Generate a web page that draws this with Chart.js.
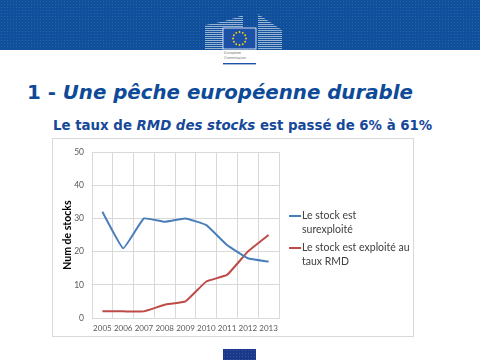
<!DOCTYPE html>
<html>
<head>
<meta charset="utf-8">
<script src="https://cdn.jsdelivr.net/npm/chart.js@4"></script>
<style>
  html, body { margin: 0; padding: 0; background: #fff; }
  body { width: 480px; height: 360px; position: relative; overflow: hidden; font-family: "DejaVu Sans", sans-serif; }
  #header {
    position: absolute; left: 0; top: 0; width: 480px; height: 50px;
    background-color: #0f4f9b;
    background-image: radial-gradient(rgba(255,255,255,0.10) 0.8px, transparent 1px);
    background-size: 3px 3px;
  }
  #logo { position: absolute; left: 200px; top: 10px; }
  #title {
    position: absolute; left: 27px; top: 81px; margin: 0;
    font: bold 19.8px "DejaVu Sans", sans-serif; color: #0d4a98; white-space: nowrap;
  }
  #title i { font-style: italic; }
  #subtitle {
    position: absolute; left: 53px; top: 118px; margin: 0;
    font: bold 13.35px "DejaVu Sans", sans-serif; color: #16489a; white-space: nowrap;
  }
  #subtitle i { font-weight: bold; font-style: italic; }
  #box {
    position: absolute; left: 52px; top: 138px; width: 360px; height: 197px;
    border: 1px solid #d9d9d9;
  }
  #box canvas { position: absolute; left: 0; top: 0; }
  #foot {
    position: absolute; left: 223px; top: 349px; width: 33px; height: 11px;
    background-color: #1b3a8c;
    background-image: radial-gradient(rgba(255,255,255,0.12) 0.8px, transparent 1px);
    background-size: 3px 3px;
  }
</style>
</head>
<body>
<div id="header"></div>
<svg id="logo" width="90" height="60" viewBox="0 0 90 60">
  <defs>
    <pattern id="stripes" width="4" height="2" patternUnits="userSpaceOnUse">
      <rect x="0" y="0" width="4" height="0.8" fill="#ffffff" opacity="0.7"></rect>
    </pattern>
  </defs>
  <path d="M5 15 Q25 12 43 5 L43 39 L5 39 Z" fill="url(#stripes)"></path>
  <path d="M58 4 Q70 12 82 20 L82 39 L58 39 Z" fill="url(#stripes)"></path>
  <rect x="23" y="18" width="33" height="21" fill="#1d51a8" stroke="#ffffff" stroke-width="0.8"></rect>
  <g id="stars" fill="#ffdd00"></g>
  <text x="24" y="44" font-size="3.6" fill="#777" font-family="DejaVu Sans">European</text>
  <text x="24" y="49" font-size="3.6" fill="#777" font-family="DejaVu Sans">Commission</text>
  <rect x="23" y="53" width="33" height="1.4" fill="#1d51a8"></rect>
</svg>
<p id="title">1 - <i>Une pêche européenne durable</i></p>
<p id="subtitle">Le taux de <i>RMD des stocks</i> est passé de 6% à 61%</p>
<div id="box"><canvas id="chart" width="360" height="197"></canvas></div>
<div id="foot"></div>

<script>
// years on the x axis
const years = ['2005', '2006', '2007', '2008', '2009', '2010', '2011', '2012', '2013'];

// number of stocks per year
const surexploite = [32, 21, 30, 29, 30, 28, 22, 18, 17];
const tauxRMD = [2, 2, 2, 4, 5, 11, 13, 20, 25];

const yTicks = [0, 10, 20, 30, 40, 50];

// eu stars on the flag (decoration)
const starGroup = document.getElementById('stars');
for (let i = 0; i < 12; i++) {
  const a = (i / 12) * Math.PI * 2;
  const c = document.createElementNS('http://www.w3.org/2000/svg', 'circle');
  c.setAttribute('cx', 39.5 + Math.cos(a) * 6.5);
  c.setAttribute('cy', 28.5 + Math.sin(a) * 6.5);
  c.setAttribute('r', 0.9);
  starGroup.appendChild(c);
}

Chart.defaults.font.family = 'Lato, "Liberation Sans", sans-serif';
Chart.defaults.color = '#595959';

// legend drawn at the right, labels can have line breaks
const sideLegend = {
  id: 'sideLegend',
  afterDraw(chart) {
    const ctx = chart.ctx;
    const x = 236;
    let y = 77;
    ctx.save();
    ctx.font = '10.5px Lato, "Liberation Sans", sans-serif';
    ctx.textBaseline = 'middle';
    chart.data.datasets.forEach(ds => {
      ctx.strokeStyle = ds.borderColor;
      ctx.lineWidth = 2;
      ctx.beginPath();
      ctx.moveTo(x, y);
      ctx.lineTo(x + 12, y);
      ctx.stroke();
      ctx.fillStyle = '#404040';
      ds.label.split('\n').forEach((line, i) => {
        ctx.fillText(line, x + 13, y + i * 14);
      });
      y += 32;
    });
    ctx.restore();
  },
};

const config = {
  type: 'line',
  data: {
    labels: years,
    datasets: [
      {
        label: 'Le stock est\nsurexploité',
        data: surexploite,
        borderColor: '#4a7ebb',
        backgroundColor: '#4a7ebb',
        borderWidth: 2,
        pointRadius: 0,
        tension: 0.1,
      },
      {
        label: 'Le stock est exploité au\ntaux RMD',
        data: tauxRMD,
        borderColor: '#be4b48',
        backgroundColor: '#be4b48',
        borderWidth: 2,
        pointRadius: 0,
        tension: 0.1,
      },
    ],
  },
  options: {
    responsive: false,
    animation: false,
    layout: { padding: { left: 4, right: 134, top: 8, bottom: 0 } },
    plugins: {
      legend: { display: false },
      tooltip: { enabled: false },
    },
    scales: {
      x: {
        offset: true,
        grid: { offset: true, color: '#d9d9d9', drawTicks: false },
        border: { color: '#d9d9d9' },
        ticks: { autoSkip: false, maxRotation: 0, padding: 6, font: { size: 8 } },
        afterFit: scale => { scale.height = 18; },
      },
      y: {
        min: 0,
        max: 50,
        afterBuildTicks: scale => { scale.ticks = yTicks.map(v => ({ value: v })); },
        grid: { color: '#d9d9d9', drawTicks: false },
        border: { color: '#d9d9d9' },
        ticks: { padding: 8, font: { size: 8.5 } },
        title: {
          display: true,
          text: 'Num de stocks',
          color: '#000',
          font: { size: 10.5, weight: 'bold' },
        },
        afterFit: scale => { scale.width = 35; },
      },
    },
  },
  plugins: [sideLegend],
};

new Chart(document.getElementById('chart'), config);
</script>
</body>
</html>
